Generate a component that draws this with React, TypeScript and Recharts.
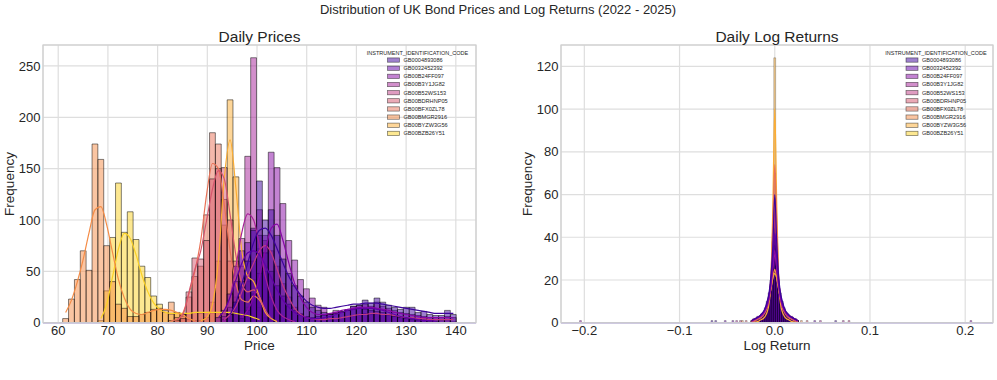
import { Bar, CartesianGrid, ComposedChart, Line, ReferenceLine, XAxis, YAxis } from "recharts";

const codes = [
	"GB0004893086",
	"GB0032452392",
	"GB00B24FF097",
	"GB00B3Y1JG82",
	"GB00B52WS153",
	"GB00BDRHNP05",
	"GB00BFX0ZL78",
	"GB00BMGR2916",
	"GB00BYZW3G56",
	"GB00BZB26Y51",
];

// plasma, 10 steps
const colors = [
	"#3d049b",
	"#6200a7",
	"#8707a6",
	"#a62098",
	"#c03a83",
	"#d6556d",
	"#e97257",
	"#f58c46",
	"#fdad32",
	"#fbd124",
];

// ---- Daily prices: 67 shared bins, first edge 60.9, width 1.182
const priceBinStart = 60.9;
const priceBinWidth = 1.182;
const priceBinCount = 67;

const priceHist1 = { from: 28, values: [8, 20, 40, 60, 90, 138, 100, 110, 85, 62, 48, 36, 26, 20, 15, 12, 10, 8, 9, 10, 12, 16, 17, 22, 19, 24, 20, 17, 15, 13, 15, 15, 10, 11, 8, 7, 7, 12, 8] };
const priceHist2 = { from: 26, values: [5, 12, 28, 55, 70, 78, 92, 85, 68, 50, 36, 26, 18, 12, 8, 6, 5, 6, 7, 8, 10, 11, 12, 13, 14, 13, 12, 11, 10, 8, 6, 5, 4, 3, 2, 2, 1, 1] };
const priceHist3 = { from: 30, values: [4, 12, 28, 48, 85, 166, 151, 116, 80, 61, 42, 33, 24, 17, 15, 9, 12, 11, 12, 16, 17, 18, 16, 20, 16, 14, 12, 10, 9, 8, 7, 6, 5, 5, 5, 6, 5] };
const priceHist4 = { from: 27, values: [6, 15, 40, 82, 162, 258, 110, 50, 25, 12, 6, 3, 2] };
const priceHist5 = { from: 27, values: [3, 8, 18, 35, 48, 60, 72, 80, 70, 55, 38, 25, 15, 9, 5, 4, 3, 3, 4, 4, 5, 6, 7, 8, 9, 8, 9, 8, 7, 6, 5, 4, 4, 3, 3, 2, 2, 2, 2, 1] };
const priceHist6 = { from: 19, values: [2, 4, 30, 63, 62, 80, 140, 150, 151, 100, 60, 30, 15, 25, 15, 5, 2] };
const priceHist7 = { from: 18, values: [2, 5, 8, 25, 45, 55, 105, 185, 174, 120, 60, 25, 12, 8, 20, 12, 4] };
const priceHist8 = { from: 0, values: [4, 23, 42, 70, 51, 174, 159, 75, 40, 18, 14, 6, 6, 8, 10, 13, 14, 12, 20, 10, 6, 3, 2] };
const priceHist9 = { from: 23, values: [2, 5, 20, 60, 95, 217, 142, 55, 40, 42, 25, 10, 4, 2] };
const priceHist10 = { from: 6, values: [2, 31, 83, 136, 88, 108, 81, 55, 44, 26, 18, 10, 8, 9, 8, 9, 10, 9, 10, 9, 10, 9, 8, 7, 6, 5, 3, 2] };

const priceKde1 = { from: 28, values: [8, 20, 38, 58, 78, 90, 92, 85, 72, 58, 45, 35, 27, 21, 17, 15, 14, 14, 15, 16, 17, 18, 18, 19, 19, 19, 18, 17, 16, 15, 14, 13, 12, 11, 10, 9, 9, 9, 9] };
const priceKde2 = { from: 26, values: [5, 12, 25, 42, 58, 68, 70, 66, 56, 44, 32, 22, 15, 10, 7, 5, 4, 4, 5, 6, 8, 10, 12, 13, 14, 14, 14, 13, 12, 10, 8, 6, 5, 4, 3, 2, 2, 1] };
const priceKde3 = { from: 30, values: [5, 12, 25, 45, 70, 92, 96, 80, 58, 38, 24, 15, 10, 8, 8, 9, 10, 12, 13, 14, 15, 15, 15, 14, 13, 12, 10, 9, 8, 7, 6, 5, 5, 5, 5, 5, 5] };
const priceKde4 = { from: 27, values: [8, 25, 55, 88, 106, 100, 75, 45, 25, 12, 6, 3, 1] };
const priceKde5 = { from: 27, values: [3, 8, 16, 30, 45, 58, 70, 75, 68, 52, 36, 24, 14, 8, 5, 4, 3, 3, 4, 4, 5, 6, 7, 8, 8, 9, 9, 8, 8, 7, 6, 5, 5, 4, 4, 3, 3, 3, 3, 3] };
const priceKde6 = { from: 19, values: [3, 8, 30, 52, 70, 100, 130, 148, 140, 105, 65, 38, 30, 32, 25, 12, 4] };
const priceKde7 = { from: 18, values: [2, 3, 10, 28, 50, 80, 125, 155, 150, 115, 70, 38, 22, 20, 26, 22, 12] };
const priceKde8 = { from: 0, values: [10, 22, 40, 62, 88, 110, 113, 95, 68, 42, 24, 13, 9, 8, 10, 12, 13, 13, 12, 10, 7, 4, 2] };
const priceKde9 = { from: 23, values: [2, 5, 18, 60, 140, 178, 130, 70, 45, 40, 25, 10, 4, 1] };
const priceKde10 = { from: 6, values: [4, 18, 45, 72, 87, 82, 66, 46, 30, 19, 13, 10, 9, 9, 9, 9, 10, 10, 10, 10, 10, 10, 10, 9, 8, 7, 5, 3] };

// ---- Daily log returns: bins 0.002 wide centred on 0, block from bin -12 to 12
const returnBinWidth = 0.002;
const returnFirstBin = -12;

const returnHist1 = [1, 2, 2, 3, 3, 4, 5, 7, 10, 14, 20, 30, 58, 32, 20, 14, 10, 7, 5, 4, 3, 3, 2, 2, 1];
const returnHist2 = [1, 1, 2, 2, 3, 4, 5, 6, 9, 12, 18, 26, 44, 27, 18, 12, 9, 6, 5, 4, 3, 2, 2, 1, 1];
const returnHist3 = [1, 1, 2, 2, 3, 3, 4, 6, 8, 11, 17, 25, 36, 24, 17, 11, 8, 6, 4, 3, 3, 2, 2, 1, 1];
const returnHist4 = [1, 1, 1, 2, 2, 3, 4, 5, 7, 10, 16, 24, 34, 25, 16, 10, 7, 5, 4, 3, 2, 2, 1, 1, 1];
const returnHist5 = [0, 1, 1, 1, 2, 3, 3, 5, 7, 10, 17, 30, 52, 28, 16, 10, 7, 5, 3, 3, 2, 1, 1, 1, 0];
const returnHist6 = [0, 0, 1, 1, 2, 2, 3, 4, 6, 9, 16, 28, 55, 30, 15, 9, 6, 4, 3, 2, 2, 1, 1, 0, 0];
const returnHist7 = [0, 0, 0, 1, 1, 2, 2, 3, 5, 8, 15, 30, 70, 32, 16, 8, 5, 3, 2, 2, 1, 1, 0, 0, 0];
const returnHist8 = [1, 1, 2, 2, 3, 3, 4, 5, 7, 10, 14, 19, 24, 20, 14, 10, 7, 5, 4, 3, 3, 2, 2, 1, 1];
const returnHist9 = [0, 0, 0, 0, 0, 1, 1, 2, 3, 6, 12, 38, 124, 40, 12, 6, 3, 2, 1, 1, 0, 0, 0, 0, 0];
const returnHist10 = [0, 1, 1, 2, 2, 3, 4, 6, 8, 11, 15, 19, 22, 19, 15, 11, 8, 6, 4, 3, 2, 2, 1, 1, 0];

const returnKde1 = [1, 1.5, 2, 2.5, 3, 4, 5, 7, 10, 14, 22, 36, 60, 38, 22, 14, 10, 7, 5, 4, 3, 2.5, 2, 1.5, 1];
const returnKde2 = [1, 1.5, 2, 2.5, 3, 4, 5, 6.5, 9, 13, 20, 30, 42, 31, 20, 13, 9, 6.5, 5, 4, 3, 2.5, 2, 1.5, 1];
const returnKde3 = [1, 1.5, 2, 2.5, 3, 3.5, 4.5, 6, 8, 12, 18, 26, 34, 26, 18, 12, 8, 6, 4.5, 3.5, 3, 2.5, 2, 1.5, 1];
const returnKde4 = [1, 1.5, 2, 2.5, 3, 3.5, 4.5, 6, 8, 11, 17, 26, 32, 26, 17, 11, 8, 6, 4.5, 3.5, 3, 2.5, 2, 1.5, 1];
const returnKde5 = [0.5, 1, 1.5, 2, 2.5, 3, 4, 6, 8, 12, 19, 33, 50, 34, 19, 12, 8, 6, 4, 3, 2.5, 2, 1.5, 1, 0.5];
const returnKde6 = [0.5, 1, 1.5, 2, 2.5, 3, 4, 5.5, 8, 12, 20, 36, 56, 37, 21, 12, 8, 5.5, 4, 3, 2.5, 2, 1.5, 1, 0.5];
const returnKde7 = [0.3, 0.5, 1, 1.5, 2, 2.5, 3.5, 5, 7, 11, 22, 46, 74, 48, 23, 11, 7, 5, 3.5, 2.5, 2, 1.5, 1, 0.5, 0.3];
const returnKde8 = [1, 1.5, 2, 2.5, 3, 3.5, 4.5, 6, 8, 11, 16, 21, 25, 21, 16, 11, 8, 6, 4.5, 3.5, 3, 2.5, 2, 1.5, 1];
const returnKde9 = [0, 0, 0.3, 0.5, 1, 1.5, 2, 3, 5, 9, 20, 55, 100, 57, 21, 9, 5, 3, 2, 1.5, 1, 0.5, 0.3, 0, 0];
const returnKde10 = [0.5, 1, 1.5, 2, 2.5, 3, 4, 6, 8, 11, 16, 21, 23, 21, 16, 11, 8, 6, 4, 3, 2.5, 2, 1.5, 1, 0.5];

// single returns far from zero (one count each)
const returnOutliers1 = [-0.066, -0.062, 0.064];
const returnOutliers2 = [-0.052, -0.044, 0.042];
const returnOutliers3 = [-0.204, 0.206];
const returnOutliers4 = [-0.04, 0.048, 0.072];
const returnOutliers5 = [-0.036, 0.078];
const returnOutliers6 = [-0.03, 0.034];
const returnOutliers8 = [-0.034, 0.028];

const priceHists = [priceHist1, priceHist2, priceHist3, priceHist4, priceHist5, priceHist6, priceHist7, priceHist8, priceHist9, priceHist10];
const priceKdes = [priceKde1, priceKde2, priceKde3, priceKde4, priceKde5, priceKde6, priceKde7, priceKde8, priceKde9, priceKde10];
const returnHists = [returnHist1, returnHist2, returnHist3, returnHist4, returnHist5, returnHist6, returnHist7, returnHist8, returnHist9, returnHist10];
const returnKdes = [returnKde1, returnKde2, returnKde3, returnKde4, returnKde5, returnKde6, returnKde7, returnKde8, returnKde9, returnKde10];
const returnOutliers = [returnOutliers1, returnOutliers2, returnOutliers3, returnOutliers4, returnOutliers5, returnOutliers6, [], returnOutliers8, [], []];

const pick = (s: { from: number; values: number[] }, k: number) => {
	const v = s.values[k - s.from];
	return v === undefined ? null : v;
};

const priceRows = Array.from({ length: priceBinCount }, (_, k) => {
	const row: Record<string, number | null> = { x: priceBinStart + (k + 0.5) * priceBinWidth };
	priceHists.forEach((s, i) => {
		row[`h${i}`] = pick(s, k);
	});
	priceKdes.forEach((s, i) => {
		row[`k${i}`] = pick(s, k);
	});
	return row;
});

const returnRows = (() => {
	const rows: Record<string, number | null>[] = returnHist1.map((_, j) => {
		const row: Record<string, number | null> = { x: (returnFirstBin + j) * returnBinWidth };
		returnHists.forEach((s, i) => {
			row[`h${i}`] = s[j];
		});
		returnKdes.forEach((s, i) => {
			row[`k${i}`] = s[j];
		});
		return row;
	});
	returnOutliers.forEach((xs, i) => {
		xs.forEach((x) => rows.push({ x, [`h${i}`]: 1 }));
	});
	return rows.sort((a, b) => (a.x as number) - (b.x as number));
})();

const font = "'Liberation Sans', Arial, sans-serif";
const ink = "#262626";
const tickStyle = { fill: ink, fontSize: 13, fontFamily: font };
const drawOrder = [9, 8, 7, 6, 5, 4, 3, 2, 1, 0];

function Histogram({
	data,
	width,
	yAxisWidth,
	xDomain,
	xTicks,
	yDomain,
	yTicks,
	barSize,
	edgeWidth,
	xFormat,
}: {
	data: Record<string, number | null>[];
	width: number;
	yAxisWidth: number;
	xDomain: [number, number];
	xTicks: number[];
	yDomain: [number, number];
	yTicks: number[];
	barSize: number;
	edgeWidth: number;
	xFormat: (v: number) => string;
}) {
	return (
		<ComposedChart
			width={width}
			height={380}
			data={data}
			margin={{ top: 45, right: 4, bottom: 0, left: 0 }}
			barGap={-barSize}
		>
			<CartesianGrid stroke="#dedede" strokeWidth={1.2} />
			<XAxis
				dataKey="x"
				type="number"
				domain={xDomain}
				ticks={xTicks}
				allowDataOverflow
				height={57.3}
				axisLine={false}
				tickLine={false}
				tickSize={0}
				tickMargin={3.5}
				tick={tickStyle}
				tickFormatter={xFormat}
				interval={0}
			/>
			<YAxis
				type="number"
				domain={yDomain}
				ticks={yTicks}
				allowDataOverflow
				width={yAxisWidth}
				axisLine={false}
				tickLine={false}
				tickSize={0}
				tickMargin={2.5}
				tick={tickStyle}
				interval={0}
			/>
			{drawOrder.map((i) => (
				<Bar
					key={`h${i}`}
					dataKey={`h${i}`}
					barSize={barSize}
					fill={colors[i]}
					fillOpacity={0.5}
					stroke="#000"
					strokeOpacity={0.55}
					strokeWidth={edgeWidth}
					isAnimationActive={false}
				/>
			))}
			<ReferenceLine y={0} stroke="#a496d8" strokeWidth={1.6} />
			{drawOrder.map((i) => (
				<Line
					key={`k${i}`}
					dataKey={`k${i}`}
					type="monotone"
					stroke={colors[i]}
					strokeWidth={1.2}
					dot={false}
					activeDot={false}
					isAnimationActive={false}
				/>
			))}
		</ComposedChart>
	);
}

function LegendBlock({ left }: { left: number }) {
	return (
		<g fontFamily={font} fill={ink}>
			<text x={left + 30} y={54.6} fontSize={5.5} textAnchor="middle">
				INSTRUMENT_IDENTIFICATION_CODE
			</text>
			{codes.map((code, i) => (
				<g key={code}>
					<rect
						x={left}
						y={57.9 + i * 8.15}
						width={12}
						height={4.3}
						fill={colors[i]}
						fillOpacity={0.5}
						stroke="#000"
						strokeOpacity={0.55}
						strokeWidth={0.7}
					/>
					<text x={left + 16} y={62 + i * 8.15} fontSize={5.6}>
						{code}
					</text>
				</g>
			))}
		</g>
	);
}

const minus = (s: string) => s.replace("-", "\u2212");

export default function App() {
	return (
		<div style={{ position: "absolute", left: 0, top: 0, width: 997, height: 380, background: "#fff" }}>
			<div style={{ position: "absolute", left: 0, top: 0 }}>
				<Histogram
					data={priceRows}
					width={480}
					yAxisWidth={43}
					xDomain={[56.94, 144.06]}
					xTicks={[60, 70, 80, 90, 100, 110, 120, 130, 140]}
					yDomain={[0, 270.4]}
					yTicks={[0, 50, 100, 150, 200, 250]}
					barSize={5.8}
					edgeWidth={0.9}
					xFormat={(v) => String(v)}
				/>
			</div>
			<div style={{ position: "absolute", left: 500, top: 0 }}>
				<Histogram
					data={returnRows}
					width={497}
					yAxisWidth={61}
					xDomain={[-0.2245, 0.2292]}
					xTicks={[-0.2, -0.1, 0, 0.1, 0.2]}
					yDomain={[0, 130]}
					yTicks={[0, 20, 40, 60, 80, 100, 120]}
					barSize={1.85}
					edgeWidth={0.45}
					xFormat={(v) => minus(v.toFixed(1))}
				/>
			</div>
			<svg
				width={997}
				height={380}
				style={{ position: "absolute", left: 0, top: 0, pointerEvents: "none" }}
			>
				<rect x={43} y={45} width={433} height={277.7} fill="none" stroke="#cfcfcf" strokeWidth={1.2} />
				<rect x={561} y={45} width={432} height={277.7} fill="none" stroke="#cfcfcf" strokeWidth={1.2} />
				<g fontFamily={font} fill={ink}>
					<text x={498} y={13.5} fontSize={13} textAnchor="middle">
						Distribution of UK Bond Prices and Log Returns (2022 - 2025)
					</text>
					<text x={259.5} y={41.7} fontSize={15.5} textAnchor="middle">
						Daily Prices
					</text>
					<text x={777} y={41.7} fontSize={15.5} textAnchor="middle">
						Daily Log Returns
					</text>
					<text x={259.5} y={350} fontSize={13.5} textAnchor="middle">
						Price
					</text>
					<text x={777} y={350} fontSize={13.5} textAnchor="middle">
						Log Return
					</text>
					<text x={14} y={184} fontSize={13.5} textAnchor="middle" transform="rotate(-90 14 184)">
						Frequency
					</text>
					<text x={531.5} y={184} fontSize={13.5} textAnchor="middle" transform="rotate(-90 531.5 184)">
						Frequency
					</text>
				</g>
				<LegendBlock left={387.5} />
				<LegendBlock left={906} />
			</svg>
		</div>
	);
}
